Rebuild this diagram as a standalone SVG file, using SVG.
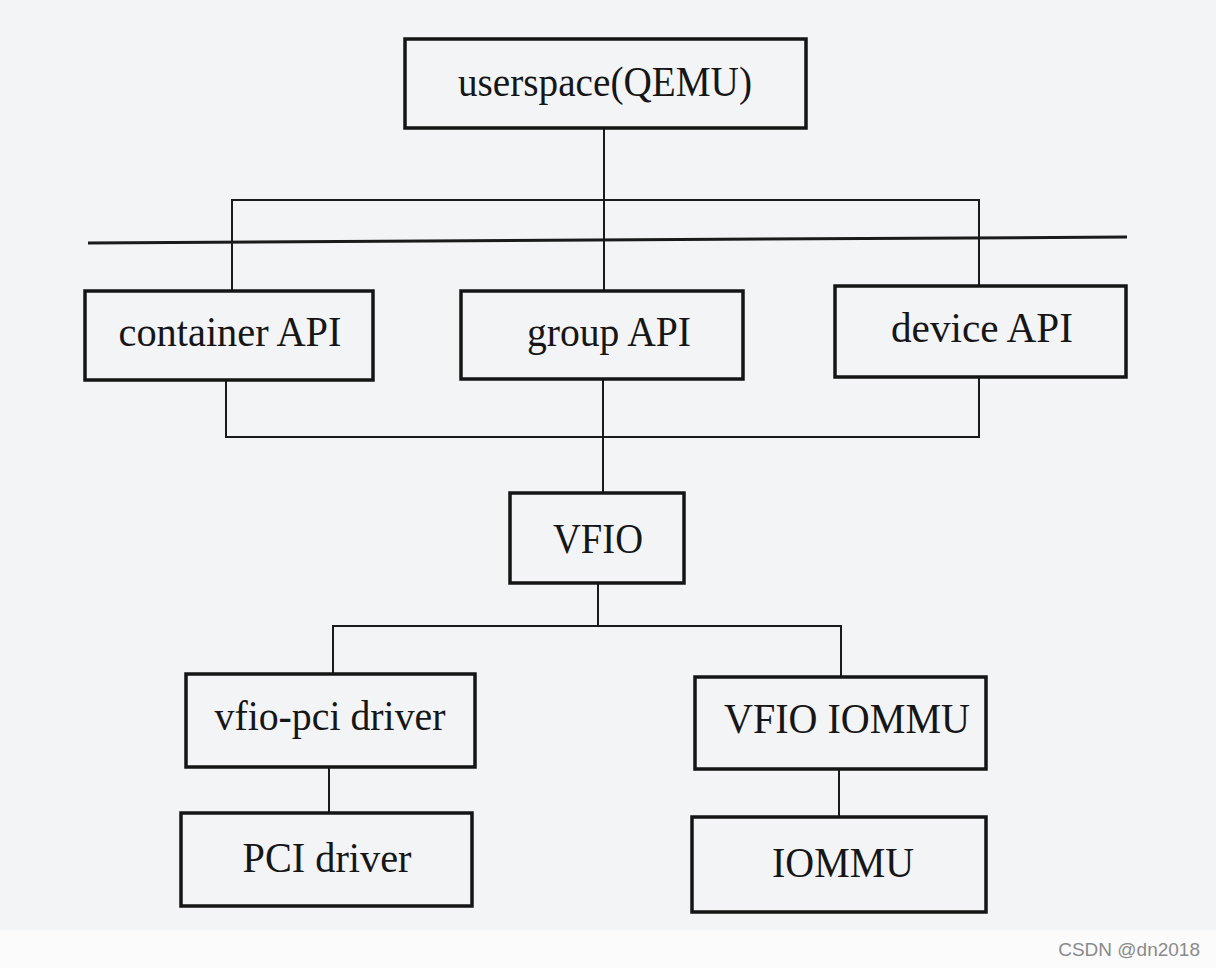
<svg xmlns="http://www.w3.org/2000/svg" width="1216" height="968" viewBox="0 0 1216 968">
<style>
.box{fill:none;stroke:#151515;stroke-width:3.5}
.lbl{font-family:"Liberation Serif","Times New Roman",serif;font-size:42px;fill:#161616;text-anchor:middle}
.con{stroke:#1a1a1a;stroke-width:2;fill:none}
.sep{stroke:#1a1a1a;stroke-width:3;fill:none}
.wm{font-family:"Liberation Sans",Arial,sans-serif;font-size:19px;fill:#8a8a8a;text-anchor:end}
</style>
<rect x="0" y="0" width="1216" height="968" fill="#f3f4f6"/>
<rect x="0" y="930" width="1216" height="38" fill="#fbfbfb"/>
<g id="connectors">
<path class="con" d="M604 128 V200"/>
<path class="con" d="M232 290 V200 H979 V286"/>
<path class="con" d="M604 200 V291"/>
<path class="sep" d="M88 243 L1127 237"/>
<path class="con" d="M226 380 V437 H979 V377"/>
<path class="con" d="M603 380 V493"/>
<path class="con" d="M598 583 V626"/>
<path class="con" d="M333 673 V626 H841 V677"/>
<path class="con" d="M329 767 V813"/>
<path class="con" d="M839 769 V817"/>
</g>
<g id="userspace">
<rect class="box" x="405" y="39" width="401" height="89"/>
<text class="lbl" x="605" y="96" textLength="294" lengthAdjust="spacingAndGlyphs">userspace(QEMU)</text>
</g>
<g id="container-api">
<rect class="box" x="85" y="291" width="288" height="89"/>
<text class="lbl" x="230" y="346" textLength="223" lengthAdjust="spacingAndGlyphs">container API</text>
</g>
<g id="group-api">
<rect class="box" x="461" y="291" width="282" height="88"/>
<text class="lbl" x="609" y="346" textLength="164" lengthAdjust="spacingAndGlyphs">group API</text>
</g>
<g id="device-api">
<rect class="box" x="835" y="286" width="291" height="91"/>
<text class="lbl" x="982" y="342" textLength="182" lengthAdjust="spacingAndGlyphs">device API</text>
</g>
<g id="vfio">
<rect class="box" x="510" y="493" width="174" height="90"/>
<text class="lbl" x="598" y="553" textLength="90" lengthAdjust="spacingAndGlyphs">VFIO</text>
</g>
<g id="vfio-pci-driver">
<rect class="box" x="186" y="674" width="289" height="93"/>
<text class="lbl" x="330" y="730" textLength="231" lengthAdjust="spacingAndGlyphs">vfio-pci driver</text>
</g>
<g id="vfio-iommu">
<rect class="box" x="695" y="677" width="291" height="92"/>
<text class="lbl" x="847" y="733" textLength="246" lengthAdjust="spacingAndGlyphs">VFIO IOMMU</text>
</g>
<g id="pci-driver">
<rect class="box" x="181" y="813" width="291" height="93"/>
<text class="lbl" x="327" y="872" textLength="169" lengthAdjust="spacingAndGlyphs">PCI driver</text>
</g>
<g id="iommu">
<rect class="box" x="692" y="817" width="294" height="95"/>
<text class="lbl" x="843" y="877" textLength="142" lengthAdjust="spacingAndGlyphs">IOMMU</text>
</g>
<text class="wm" x="1200" y="956">CSDN @dn2018</text>
</svg>
